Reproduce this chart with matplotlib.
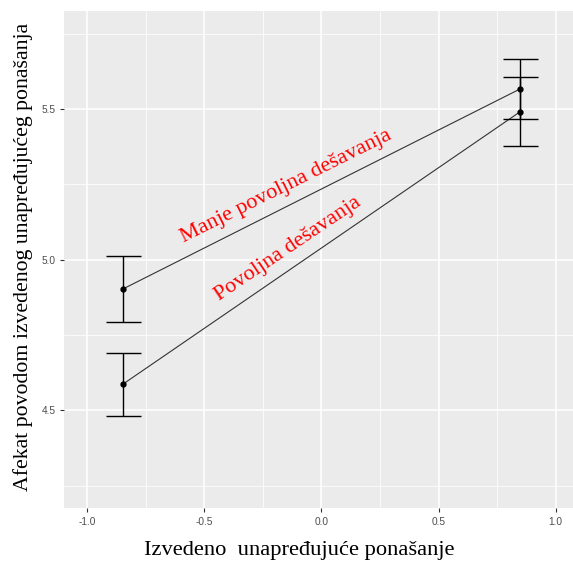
import matplotlib
matplotlib.use("Agg")
import matplotlib.pyplot as plt
from matplotlib.ticker import FixedLocator, FuncFormatter

# Data
x_levels = [-0.85, 0.85]
mean_manje = [4.902, 5.567]
se_manje = [0.109, 0.100]
mean_povoljna = [4.586, 5.4915]
se_povoljna = [0.104, 0.1145]
label_manje = "Manje povoljna dešavanja"
label_povoljna = "Povoljna dešavanja"
x_ticks = [-1.0, -0.5, 0.0, 0.5, 1.0]
y_ticks = [4.5, 5.0, 5.5]
x_minor = [-0.75, -0.25, 0.25, 0.75]
y_minor = [4.25, 4.75, 5.25, 5.75]
xlabel = "Izvedeno  unapređujuće ponašanje"
ylabel = "Afekat povodom izvedenog unapređujućeg ponašanja"

W, H = 573, 561
fig = plt.figure(figsize=(W / 100, H / 100), dpi=100)
ax = fig.add_axes([64 / W, (H - 508.3) / H, 515 / W, 497.3 / H])
ax.set_facecolor("#EBEBEB")
for s in ax.spines.values():
    s.set_visible(False)

ax.set_xlim(-1.1, 1.1)
ax.set_ylim(4.175, 5.825)

ax.xaxis.set_major_locator(FixedLocator(x_ticks))
ax.yaxis.set_major_locator(FixedLocator(y_ticks))
ax.xaxis.set_minor_locator(FixedLocator(x_minor))
ax.yaxis.set_minor_locator(FixedLocator(y_minor))
ax.xaxis.set_major_formatter(FuncFormatter(lambda v, p: f"{v:.1f}".replace("\u2212", "-")))
ax.yaxis.set_major_formatter(FuncFormatter(lambda v, p: f"{v:.1f}"))
ax.grid(which="major", color="white", linewidth=1.1)
ax.grid(which="minor", color="white", linewidth=0.55)
ax.set_axisbelow(True)
ax.tick_params(which="major", length=3, width=0.8, color="#333333",
               labelsize=7.3, labelcolor="#4D4D4D", pad=3)
ax.tick_params(which="minor", length=0)
for lab in ax.get_xticklabels() + ax.get_yticklabels():
    lab.set_family("Liberation Sans")

for means, ses in [(mean_manje, se_manje), (mean_povoljna, se_povoljna)]:
    ax.plot(x_levels, means, color="#333333", linewidth=0.8, zorder=3)
    ax.errorbar(x_levels, means, yerr=ses, fmt="none", ecolor="black",
                elinewidth=1.0, capsize=17.5 * 0.72, capthick=1.0, zorder=4)
    ax.plot(x_levels, means, "o", color="black", markersize=3.5, zorder=5)

ax.text(-0.151, 5.243, label_manje, color="red", fontsize=16,
        family="Liberation Serif", rotation=26.5, rotation_mode="anchor",
        ha="center", va="center")
ax.text(-0.143, 5.035, label_povoljna, color="red", fontsize=16,
        family="Liberation Serif", rotation=34, rotation_mode="anchor",
        ha="center", va="center")

fig.text(299 / W, 1 - 550 / H, xlabel, family="Liberation Serif", fontsize=16.2,
         ha="center", va="center")
fig.text(23 / W, 1 - 257 / H, ylabel, family="Liberation Serif", fontsize=15.7,
         ha="center", va="center", rotation=90)

fig.savefig("out.png", dpi=100)
